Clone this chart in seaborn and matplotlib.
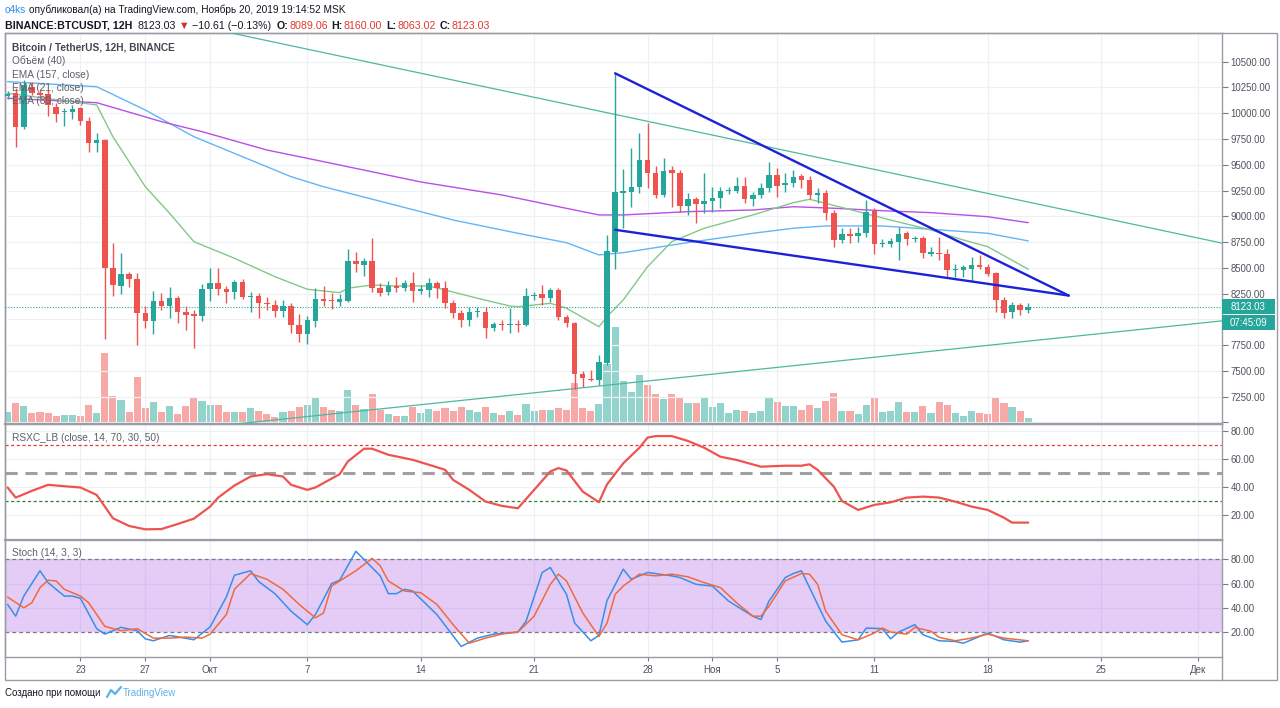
import numpy as np
import pandas as pd
import matplotlib
matplotlib.use("Agg")
import matplotlib.pyplot as plt
import matplotlib.transforms as mtrans
from matplotlib.patches import Rectangle
from matplotlib.lines import Line2D
import seaborn as sns

W, H = 1280, 708

# ---------------- data ----------------
# 12H candles; index 0 = 19 Sep 2019 00:00, index -1 = 18 Sep 12:00
candle_index = list(range(-1, 126))
open_ = [10170, 10193, 9864, 10257, 10190, 10187, 10063, 10010, 10012, 10048, 9928,
         9714, 9740, 8502, 8324, 8438, 8392, 8065, 7988, 8182, 8130,
         8205, 8075, 8050, 8033, 8292, 8356, 8292, 8269, 8363, 8215,
         8227, 8156, 8140, 8085, 8130, 7946, 7856, 7988, 8198, 8185,
         8172, 8182, 8569, 8528, 8563, 8302, 8263, 8324, 8302, 8356,
         8279, 8286, 8350, 8302, 8162, 8059, 7994, 8072, 8075, 7920,
         7955, 7946, 7955, 7946, 8227, 8244, 8205, 8286, 8020, 7968,
         7468, 7422, 7410, 7580, 8657, 9230, 9240, 9287, 9546, 9417,
         9207, 9450, 9417, 9103, 9165, 9120, 9152, 9175, 9246, 9250,
         9297, 9165, 9207, 9272, 9401, 9304, 9320, 9391, 9352, 9207,
         9223, 9035, 8770, 8830, 8810, 8841, 9055, 8729, 8732, 8754,
         8835, 8780, 8787, 8641, 8648, 8635, 8480, 8480, 8492, 8528,
         8511, 8447, 8188, 8075, 8140, 8089.06]
high = [10215, 10245, 10320, 10306, 10230, 10225, 10099, 10051, 10080, 10063, 9966,
        9805, 9750, 8738, 8641, 8463, 8447, 8130, 8276, 8253, 8317,
        8227, 8130, 8091, 8341, 8496, 8496, 8324, 8382, 8389, 8266,
        8253, 8220, 8188, 8188, 8162, 8052, 8033, 8302, 8324, 8253,
        8247, 8680, 8651, 8593, 8787, 8350, 8370, 8409, 8385, 8457,
        8334, 8398, 8370, 8373, 8188, 8091, 8117, 8124, 8117, 7978,
        7994, 8108, 7994, 8302, 8266, 8334, 8302, 8302, 8043, 7975,
        7500, 7509, 7655, 8819, 10387, 9456, 9660, 9811, 9908, 9488,
        9563, 9488, 9450, 9223, 9190, 9417, 9287, 9287, 9285, 9378,
        9378, 9240, 9320, 9530, 9466, 9417, 9449, 9411, 9391, 9272,
        9255, 9061, 8884, 8884, 8899, 9158, 9078, 8780, 8790, 8899,
        8860, 8810, 8809, 8705, 8796, 8680, 8540, 8530, 8603, 8625,
        8540, 8463, 8220, 8172, 8162, 8160.00]
low = [10140, 9668, 9850, 10177, 10150, 9973, 9918, 9876, 9941, 9886, 9627,
       9627, 7807, 8227, 8247, 8317, 7752, 7920, 7859, 8091, 8011,
       7962, 7898, 7720, 7988, 8182, 8237, 8162, 8195, 8195, 8075,
       8011, 8091, 8026, 8020, 7865, 7784, 7762, 7930, 8130, 8098,
       8130, 8172, 8463, 8421, 8269, 8227, 8240, 8266, 8279, 8172,
       8247, 8215, 8205, 8108, 8011, 7930, 7936, 8026, 7817, 7888,
       7900, 7872, 7875, 7936, 8188, 8140, 8172, 7994, 7930, 7328,
       7347, 7405, 7364, 7558, 8486, 8884, 9094, 9223, 9272, 9174,
       9190, 9094, 9045, 9013, 8932, 9029, 9045, 9078, 9220, 9223,
       9127, 9100, 9175, 9240, 9190, 9239, 9287, 9272, 9165, 9127,
       8964, 8705, 8744, 8737, 8754, 8797, 8634, 8700, 8700, 8576,
       8725, 8754, 8593, 8615, 8576, 8409, 8415, 8410, 8375, 8486,
       8418, 8075, 8011, 8011, 8043, 8063.02]
close = [10182, 9864, 10274, 10193, 10184, 10075, 9993, 10020, 10038, 9928, 9714,
         9740, 8502, 8334, 8438, 8392, 8065, 7988, 8182, 8130, 8205,
         8075, 8043, 8033, 8292, 8356, 8292, 8266, 8363, 8215, 8227,
         8156, 8147, 8085, 8130, 7946, 7856, 7994, 8198, 8179, 8176,
         8195, 8569, 8535, 8563, 8302, 8259, 8324, 8302, 8350, 8279,
         8292, 8350, 8302, 8162, 8059, 7994, 8075, 8085, 7920, 7952,
         7948, 7955, 7946, 8227, 8240, 8205, 8286, 8020, 7962, 7468,
         7429, 7410, 7584, 8664, 9236, 9240, 9287, 9546, 9417, 9207,
         9440, 9417, 9103, 9165, 9120, 9152, 9181, 9246, 9255, 9297,
         9165, 9207, 9278, 9401, 9294, 9320, 9384, 9352, 9207, 9230,
         9035, 8770, 8826, 8810, 8841, 9045, 8729, 8738, 8761, 8829,
         8777, 8790, 8641, 8648, 8635, 8479, 8488, 8505, 8528, 8505,
         8440, 8188, 8065, 8140, 8091, 8123.03]
volume_k = [11.7, 20.7, 18.3, 10.7, 12.3, 10.7, 7.7, 9.3, 9.3, 8.3, 19.3,
            10.7, 71.0, 27.7, 24.3, 12.3, 46.7, 16.0, 22.3, 11.7, 18.3,
            10.0, 17.7, 26.7, 22.7, 19.0, 19.3, 11.7, 12.3, 11.7, 16.0,
            13.3, 9.7, 7.3, 11.7, 13.3, 16.7, 19.3, 26.0, 16.7, 14.0,
            12.7, 34.3, 19.0, 15.0, 30.0, 14.0, 10.0, 8.3, 7.7, 16.7,
            11.3, 15.0, 12.7, 15.7, 13.3, 16.7, 14.0, 11.7, 16.7, 10.7,
            9.3, 13.3, 9.3, 20.0, 12.7, 14.3, 14.3, 15.7, 14.3, 41.3,
            15.7, 12.7, 20.0, 60.0, 96.7, 43.3, 32.3, 49.0, 39.0, 30.0,
            25.0, 30.0, 26.7, 20.7, 20.7, 26.0, 17.3, 20.7, 10.7, 14.3,
            13.3, 11.0, 12.7, 26.7, 21.7, 18.3, 18.3, 14.3, 19.0, 15.7,
            23.3, 31.0, 13.3, 12.7, 10.0, 19.0, 27.3, 11.7, 12.7, 22.3,
            11.7, 11.7, 18.3, 11.0, 21.7, 19.3, 11.0, 7.7, 12.7, 11.0,
            10.0, 26.7, 20.7, 17.3, 12.7, 5.7]

ema157_index = [-1, 10, 16, 22, 28, 34, 38, 45, 54, 62, 68, 72, 75, 83, 91, 96, 100, 107, 113, 120, 125]
ema157 = [10306, 10257, 10031, 9772, 9578, 9384, 9287, 9146, 8964, 8835, 8744, 8625, 8647,
          8745, 8835, 8884, 8906, 8906, 8874, 8835, 8761]
ema89_index = [-1, 10, 18, 23, 31, 38, 50, 60, 62, 67, 72, 75, 83, 91, 96, 101, 107, 113, 120, 125]
ema89 = [10145, 10102, 9918, 9821, 9643, 9530, 9333, 9207, 9175, 9093, 9013, 9013, 9045,
         9061, 9093, 9078, 9054, 9035, 8996, 8938]
ema21_index = [-1, 10, 12, 16, 19, 22, 27, 32, 36, 40, 41, 44, 47, 51, 53, 57, 61, 62, 66, 68,
               72, 73, 75, 78, 81, 85, 91, 96, 98, 100, 104, 108, 113, 117, 120, 125]
ema21 = [10193, 10080, 9772, 9287, 9029, 8754, 8593, 8414, 8292, 8259, 8302, 8334, 8324, 8324,
         8285, 8205, 8130, 8123, 8156, 8108, 7929, 8026, 8188, 8511, 8754, 8884, 9013, 9132,
         9165, 9126, 9045, 8964, 8867, 8770, 8705, 8486]

rsi_index = [-1, 0, 2, 4, 6, 8, 10, 12, 14, 16, 18, 20, 22, 24, 25, 27, 29, 31, 33, 34, 36, 37,
             40, 41, 43, 44, 46, 49, 51, 53, 54, 56, 58, 60, 62, 64, 66, 67, 68, 70, 72, 73,
             75, 77, 78, 79, 81, 83, 85, 87, 89, 92, 95, 97, 98, 99, 101, 102, 104, 106, 108,
             110, 112, 114, 116, 118, 120, 122, 123, 125]
rsi_value = [39.8, 32.6, 37.4, 41.7, 40.7, 39.8, 34.5, 17.9, 12.4, 10.0, 10.2, 13.8, 17.6, 26.2,
             32.6, 41.2, 47.6, 49.3, 47.6, 41.7, 38.1, 39.8, 49.3, 58.3, 67.4, 67.4, 63.1, 59.5,
             56.0, 52.4, 45.2, 38.1, 29.8, 26.7, 25.0, 38.1, 51.2, 53.6, 51.9, 36.9, 29.3, 42.0,
             57.0, 68.1, 75.3, 76.4, 76.4, 72.9, 68.1, 61.7, 59.4, 54.6, 55.3, 55.3, 56.3, 52.3,
             40.4, 30.2, 23.8, 27.4, 29.2, 32.6, 33.3, 32.6, 29.7, 26.2, 23.8, 18.3, 14.8, 14.8]

stoch_k_index = [-1, 0, 1, 3, 4, 6, 7, 8, 10, 11, 13, 15, 16, 17, 19, 20, 22, 24, 26, 27, 29, 30,
                 32, 34, 36, 37, 39, 40, 42, 45, 46, 47, 48, 49, 52, 55, 57, 59, 62, 63, 65, 66,
                 68, 69, 71, 72, 73, 75, 76, 78, 81, 82, 84, 86, 88, 91, 92, 93, 95, 96, 97, 98,
                 100, 102, 104, 105, 107, 108, 109, 111, 112, 114, 116, 117, 119, 120, 122, 124, 125]
stoch_k = [42.8, 33.1, 49.7, 70.6, 60.8, 49.7, 49.7, 47.8, 22.8, 18.3, 23.9, 21.1, 14.4, 12.8,
           17.2, 16.1, 13.6, 24.2, 48.9, 66.9, 70.6, 61.7, 51.7, 37.2, 26.1, 34.4, 60.0, 62.8,
           86.7, 66.4, 51.7, 51.7, 55.3, 53.9, 34.4, 8.1, 15.0, 18.3, 20.0, 28.9, 69.2, 73.3,
           51.1, 27.5, 12.8, 17.2, 46.0, 71.9, 63.6, 69.2, 66.4, 65.0, 59.4, 58.0, 45.6, 33.1,
           30.3, 45.6, 65.0, 68.3, 70.6, 56.7, 28.9, 11.7, 13.6, 23.3, 22.8, 14.4, 20.0, 26.1,
           17.8, 12.8, 12.2, 10.8, 16.4, 19.2, 13.6, 11.7, 12.8]
stoch_d_index = [-1, 1, 2, 3, 4, 5, 6, 8, 9, 11, 13, 15, 17, 19, 21, 23, 24, 26, 27, 29, 31, 33,
                 35, 37, 38, 39, 42, 44, 45, 46, 48, 50, 52, 54, 56, 58, 60, 62, 64, 66, 67, 68,
                 70, 72, 73, 74, 75, 77, 79, 81, 83, 85, 87, 89, 91, 92, 93, 95, 97, 98, 99, 100,
                 102, 104, 106, 107, 108, 110, 111, 113, 114, 116, 118, 120, 122, 125]
stoch_d = [48.9, 40.0, 44.2, 56.7, 62.8, 62.2, 55.3, 49.7, 44.2, 24.7, 21.1, 22.8, 15.0, 15.0,
           15.8, 15.0, 18.3, 34.4, 55.3, 68.3, 63.6, 55.3, 42.8, 31.7, 35.8, 58.0, 70.6, 80.8,
           74.7, 62.2, 53.9, 52.5, 42.8, 26.1, 10.8, 15.0, 18.3, 20.0, 33.1, 59.4, 67.8, 62.2,
           35.8, 16.4, 27.5, 51.1, 58.0, 67.8, 66.4, 67.8, 65.6, 60.8, 56.7, 44.2, 33.1, 33.1,
           41.4, 62.2, 68.3, 67.8, 59.4, 37.2, 17.8, 13.6, 19.2, 23.3, 20.0, 18.3, 23.9, 20.6,
           15.6, 12.8, 15.0, 18.3, 15.0, 12.8]

date_tick_days = [4, 8, 12, 18, 25, 32, 39, 43, 47, 53, 60, 67, 73]
date_tick_labels = ['23', '27', 'Окт', '7', '14', '21', '28', 'Ноя', '5', '11', '18', '25', 'Дек']
price_ticks = list(range(7000, 10501, 250))
osc_ticks = [20, 40, 60, 80]

# author's drawings: (candle index, price)
trend_long_down = [(62, 10188), (130, 9055)]
trend_long_up = [(62, 7271), (130, 7830)]
wedge_top = [(74, 10387), (130, 8231)]
wedge_bottom = [(74, 8869), (130, 8231)]

last_price = 8123.03
countdown = '07:45:09'

# ---------------- style ----------------
sns.set_theme(style="white")
plt.rcParams['font.family'] = ['Liberation Sans', 'DejaVu Sans']

UP, DOWN = '#26a69a', '#ef5350'
VUP, VDOWN = '#92d3cc', '#f7a9a7'
GRID = '#eef0f4'
SPINE = '#9a9da6'
TXT = '#50535e'

fig = plt.figure(figsize=(W / 100, H / 100), dpi=100)
fig.patch.set_facecolor('white')


def box(x0, y0, x1, y1):
    return [x0 / W, 1 - y1 / H, (x1 - x0) / W, (y1 - y0) / H]


ax = fig.add_axes(box(5, 33, 1222, 424))
ax_rsi = fig.add_axes(box(5, 424, 1222, 540), sharex=ax)
ax_sto = fig.add_axes(box(5, 540, 1222, 657), sharex=ax)

df = pd.DataFrame({'i': candle_index, 'open': open_, 'high': high, 'low': low,
                   'close': close, 'vol': volume_k})
df['day'] = df['i'] / 2.0
df['up'] = df['close'] >= df['open']
ccol = np.where(df['up'], UP, DOWN)
vcol = np.where(df['up'], VUP, VDOWN)

# volume overlay
axv = ax.twinx()
axv.bar(df['day'], df['vol'], width=0.44, color=vcol, linewidth=0)
axv.set_ylim(0, df['vol'].max() * 4.04)
axv.axis('off')
ax.set_zorder(2)
axv.set_zorder(1)
ax.patch.set_visible(False)

# candles
ax.vlines(df['day'], df['low'], df['high'], colors=ccol, linewidth=1, zorder=4)
raw = (df['close'] - df['open']).abs()
mid = (df['close'] + df['open']) / 2
body_h = raw.clip(lower=14)
body_b = np.where(raw < 14, mid - 7, np.minimum(df['open'], df['close']))
ax.bar(df['day'], body_h, bottom=body_b, width=0.34, color=ccol, linewidth=0, zorder=5)

# EMAs
sns.lineplot(x=np.array(ema157_index) / 2, y=ema157, ax=ax, color='#64b5f6', linewidth=1.0, zorder=3)
sns.lineplot(x=np.array(ema89_index) / 2, y=ema89, ax=ax, color='#b94fe8', linewidth=1.0, zorder=3)
sns.lineplot(x=np.array(ema21_index) / 2, y=ema21, ax=ax, color='#83c888', linewidth=1.0, zorder=3)

# drawings
for seg in (trend_long_down, trend_long_up):
    ax.axline((seg[0][0] / 2, seg[0][1]), (seg[1][0] / 2, seg[1][1]), color='#4db8a0',
              linewidth=0.9, zorder=3)
for seg in (wedge_top, wedge_bottom):
    ax.plot([seg[0][0] / 2, seg[1][0] / 2], [seg[0][1], seg[1][1]], color='#1d22d8',
            linewidth=1.7, zorder=6, solid_capstyle='round')

ax.axhline(last_price, color=UP, linewidth=0.8, linestyle=(0, (1, 1.5)), zorder=3)

ax.set_xlim(-0.66, 74.46)
ax.set_ylim(6985, 10778)
ax.set_yticks(price_ticks)
ax.set_yticklabels(['' if p == 7000 else f'{p:.2f}' for p in price_ticks])
ax.set_xticks(date_tick_days)
ax.set_xlabel('')
ax.set_ylabel('')

# RSI
ax_rsi.axhline(70, color='#e53935', linewidth=0.9, linestyle=(0, (2.5, 2)))
ax_rsi.axhline(50, color='#a0a0a0', linewidth=2.2, linestyle=(0, (4, 2.5)))
ax_rsi.axhline(30, color='#2e7d32', linewidth=0.9, linestyle=(0, (2.5, 2)))
sns.lineplot(x=np.array(rsi_index) / 2, y=rsi_value, ax=ax_rsi, color='#ef5350', linewidth=1.6)
ax_rsi.set_ylim(2.4, 85)
ax_rsi.set_yticks(osc_ticks)
ax_rsi.set_yticklabels([f'{v:.2f}' for v in osc_ticks])
ax_rsi.set_xlabel('')
ax_rsi.set_ylabel('')

# Stoch
ax_sto.axhspan(20, 80, color='#9e48e4', alpha=0.28, linewidth=0, zorder=0.6)
ax_sto.axhline(80, color='#7d7585', linewidth=0.9, linestyle=(0, (3, 2.5)))
ax_sto.axhline(20, color='#7d7585', linewidth=0.9, linestyle=(0, (3, 2.5)))
sns.lineplot(x=np.array(stoch_k_index) / 2, y=stoch_k, ax=ax_sto, color='#3a8ee6', linewidth=1.1)
sns.lineplot(x=np.array(stoch_d_index) / 2, y=stoch_d, ax=ax_sto, color='#f06a3c', linewidth=1.1)
ax_sto.set_ylim(-0.6, 96)
ax_sto.set_yticks(osc_ticks)
ax_sto.set_yticklabels([f'{v:.2f}' for v in osc_ticks])
ax_sto.set_xlabel('')
ax_sto.set_ylabel('')

for a in (ax, ax_rsi, ax_sto):
    a.yaxis.tick_right()
    a.grid(True, color=GRID, linewidth=0.9)
    a.set_axisbelow(True)
    a.tick_params(axis='y', right=True, left=False, length=4, width=0.8, color='#787b86',
                  pad=2, labelsize=6.9, labelcolor=TXT)
    a.tick_params(axis='x', bottom=False, labelbottom=False)
    for s in a.spines.values():
        s.set_color(SPINE)
        s.set_linewidth(1.0)
ax.spines['bottom'].set_linewidth(1.6)
ax_rsi.spines['bottom'].set_linewidth(1.6)
ax_sto.tick_params(axis='x', bottom=True, labelbottom=True, length=3, width=0.8,
                   color='#787b86', pad=3, labelsize=7, labelcolor=TXT)
ax_sto.set_xticks(date_tick_days)
ax_sto.set_xticklabels(date_tick_labels)
ax_sto.set_xlim(-0.66, 74.46)

# price / countdown boxes on the price scale
blend = mtrans.blended_transform_factory(ax.transAxes, ax.transData)
bw = 53 / 1217
unit = (10778 - 6985) / 391.0
ax.add_patch(Rectangle((1.0, last_price - 7.5 * unit), bw, 15 * unit, transform=blend,
                       clip_on=False, facecolor=UP, edgecolor='none', zorder=10))
ax.text(1.0 + bw / 2, last_price, f'{last_price:.2f}', transform=blend, ha='center',
        va='center', color='white', fontsize=7, clip_on=False, zorder=11)
tb = last_price - 16 * unit
ax.add_patch(Rectangle((1.0, tb - 7.5 * unit), bw, 15 * unit, transform=blend,
                       clip_on=False, facecolor=UP, edgecolor='none', zorder=10))
ax.text(1.0 + bw / 2, tb, countdown, transform=blend, ha='center', va='center',
        color='white', fontsize=7, clip_on=False, zorder=11)

# frame
fig.add_artist(Rectangle((5 / W, 1 - 680 / H), 1272 / W, 647 / H, transform=fig.transFigure,
                         fill=False, edgecolor=SPINE, linewidth=1.0))
fig.add_artist(Line2D([1222 / W, 1222 / W], [1 - 657 / H, 1 - 680 / H], color=SPINE,
                      linewidth=1.0, transform=fig.transFigure))


def ftext(x, y, s, **kw):
    return fig.text(x / W, 1 - y / H, s, va='center', ha='left', **kw)


renderer = fig.canvas.get_renderer()


def run_line(x, y, parts, size):
    """Place text fragments one after another (colour, weight, text, gap after)."""
    for s, color, weight, gap in parts:
        t = ftext(x, y, s, color=color, fontsize=size, fontweight=weight)
        bb = t.get_window_extent(renderer)
        x = bb.x1 + gap


DARK, RED = '#131722', '#e0392f'
run_line(5, 10, [('o4ks', '#2a8ee8', 'normal', 3),
                 ('опубликовал(а) на TradingView.com, Ноябрь 20, 2019 19:14:52 MSK', DARK, 'normal', 0)],
         7.3)
run_line(5, 26, [('BINANCE:BTCUSDT, 12H', DARK, 'bold', 5),
                 ('8123.03', DARK, 'normal', 3),
                 ('▼', '#d32f2f', 'normal', 3),
                 ('−10.61 (−0.13%)', DARK, 'normal', 5),
                 ('O:', DARK, 'bold', 1), ('8089.06', RED, 'normal', 4),
                 ('H:', DARK, 'bold', 1), ('8160.00', RED, 'normal', 4),
                 ('L:', DARK, 'bold', 1), ('8063.02', RED, 'normal', 4),
                 ('C:', DARK, 'bold', 1), ('8123.03', RED, 'normal', 0)],
         7.7)

# pane legends
ftext(12, 47.5, 'Bitcoin / TetherUS, 12H, BINANCE', color='#434651', fontsize=7.3,
      fontweight='bold')
for yy, s in ((61, 'Объём (40)'), (74.5, 'EMA (157, close)'), (88, 'EMA (21, close)'),
              (101.5, 'EMA (89, close)')):
    ftext(12, yy, s, color='#5d606b', fontsize=7.3)
ftext(12, 438, 'RSXC_LB (close, 14, 70, 30, 50)', color='#5d606b', fontsize=7.3)
ftext(12, 553, 'Stoch (14, 3, 3)', color='#5d606b', fontsize=7.3)

# footer
ftext(5, 693, 'Создано при помощи', color='#131722', fontsize=7)
fig.add_artist(Line2D(np.array([107, 111, 115, 121]) / W, 1 - np.array([697, 690, 694, 687]) / H,
                      color='#5bb2e6', linewidth=1.6, transform=fig.transFigure))
ftext(123, 693, 'TradingView', color='#5bb2e6', fontsize=7)

fig.savefig('out.png', dpi=100, facecolor='white')
